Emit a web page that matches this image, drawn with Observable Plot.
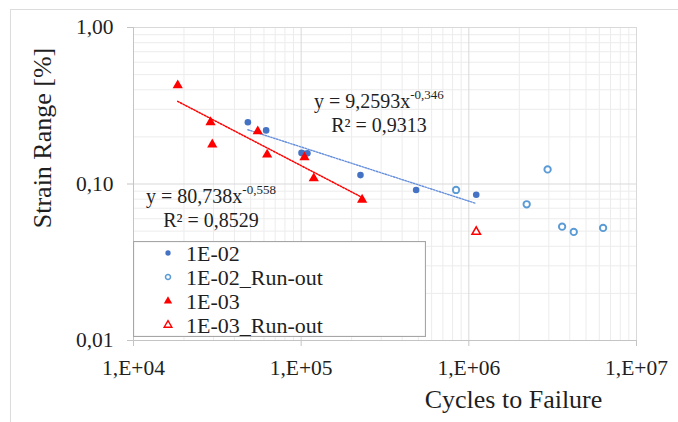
<!DOCTYPE html>
<html>
<head>
<meta charset="utf-8">
<script src="https://cdn.jsdelivr.net/npm/d3@7"></script>
<script src="https://cdn.jsdelivr.net/npm/@observablehq/plot@0.6"></script>
<style>
  html, body { margin: 0; padding: 0; background: #fff; }
  #wrap { position: relative; width: 678px; height: 422px; overflow: hidden; background: #fff; }
  #frame { position: absolute; left: 10px; top: 9px; width: 700px; height: 440px; border-left: 1.5px solid #dcdcdc; border-top: 1.5px solid #dcdcdc; }
  #chart { position: absolute; left: 0; top: 0; }
  #legend { position: absolute; left: 133px; top: 241px; }
</style>
</head>
<body>
<div id="wrap"><div id="frame"></div><div id="chart"></div><div id="legend"></div></div>
<script>
// ---- data (cycles to failure N, strain range S in %) ----
const seriesNames = ["1E-02", "1E-02_Run-out", "1E-03", "1E-03_Run-out"];

const e2Cycles = [48100, 61800, 100500, 104000, 109000, 225800, 485000, 1107000];
const e2Strain = [0.248, 0.220, 0.158, 0.156, 0.157, 0.114, 0.0916, 0.0854];

const e2RunCycles = [839000, 2213000, 2950000, 3600000, 4224000, 6320000];
const e2RunStrain = [0.0916, 0.0742, 0.124, 0.0534, 0.0494, 0.0524];

const e3Cycles = [18360, 28800, 29500, 55100, 62700, 104700, 118900, 231000];
const e3Strain = [0.427, 0.248, 0.179, 0.217, 0.154, 0.148, 0.1086, 0.0794];

const e3RunCycles = [1107000];
const e3RunStrain = [0.0495];

// power-law trendlines shown on chart: y = a * x^b
const fitCoef = [9.2593, 80.738];
const fitExp = [-0.346, -0.558];
const fitEqText = ["y = 9,2593x", "y = 80,738x"];
const fitExpText = ["-0,346", "-0,558"];
const fitR2Text = ["R² = 0,9313", "R² = 0,8529"];
const fitLabelN = [293000, 29200];   // label anchor (data coords)
const fitLabelS = [0.304, 0.0748];

// axes
const xTicks = [1e4, 1e5, 1e6, 1e7];
const xTickLabels = ["1,E+04", "1,E+05", "1,E+06", "1,E+07"];
const yTicks = [0.01, 0.1, 1];
const yTickLabels = ["0,01", "0,10", "1,00"];
const xTitle = "Cycles to Failure";
const yTitle = "Strain Range [%]";

// ---- build ----
const zip = (xs, ys) => xs.map((x, i) => ({x, y: ys[i]}));
const e2 = zip(e2Cycles, e2Strain), e2r = zip(e2RunCycles, e2RunStrain);
const e3 = zip(e3Cycles, e3Strain), e3r = zip(e3RunCycles, e3RunStrain);

function fitLine(k, xs) {
  const [lo, hi] = d3.extent(xs);
  return [lo, hi].map(x => ({x, y: fitCoef[k] * Math.pow(x, fitExp[k])}));
}
const fitBlue = fitLine(0, e2Cycles), fitRed = fitLine(1, e3Cycles);

function minorTicks(lo, hi) {
  const out = [];
  for (let d = lo; d < hi; d *= 10) for (let m = 2; m <= 9; m++) out.push(d * m);
  return out;
}
const xMinor = minorTicks(1e4, 1e7), yMinor = minorTicks(0.01, 1);

const BLUE = "#4472C4", BLUE_LIGHT = "#5B9BD5", RED = "#FF0000";
const FONT = "'Liberation Serif', 'Times New Roman', serif";
const TEXT = "#1f1f1f";

const xFmt = d => xTickLabels[xTicks.findIndex(t => Math.abs(t - d) / t < 1e-6)];
const yFmt = d => yTickLabels[yTicks.findIndex(t => Math.abs(t - d) / t < 1e-6)];

const eqMark = (index, scales) => {
  const g = d3.create("svg:g")
    .attr("font-family", FONT).attr("font-size", 20).attr("fill", TEXT)
    .attr("text-anchor", "middle");
  fitEqText.forEach((t, k) => {
    const x = scales.x(fitLabelN[k]), y = scales.y(fitLabelS[k]);
    const txt = g.append("text").attr("x", x).attr("y", y);
    txt.append("tspan").text(t);
    txt.append("tspan").attr("font-size", 13).attr("dy", -9).text(fitExpText[k]);
    g.append("text").attr("x", x).attr("y", y + 24).text(fitR2Text[k]);
  });
  return g.node();
};

const chart = Plot.plot({
  width: 678,
  height: 422,
  marginLeft: 133,
  marginRight: 42,
  marginTop: 27,
  marginBottom: 82,
  style: {fontFamily: FONT, fontSize: "21.5px", color: TEXT, background: "transparent"},
  x: {type: "log", domain: [1e4, 1e7]},
  y: {type: "log", domain: [0.01, 1]},
  marks: [
    Plot.gridX(xMinor, {stroke: "#ececec", strokeOpacity: 1}),
    Plot.gridY(yMinor, {stroke: "#ececec", strokeOpacity: 1}),
    Plot.gridX(xTicks, {stroke: "#d9d9d9", strokeOpacity: 1}),
    Plot.gridY(yTicks, {stroke: "#d9d9d9", strokeOpacity: 1}),
    Plot.ruleY([0.01], {stroke: "#c4c4c4"}),
    Plot.ruleX([1e4], {stroke: "#c4c4c4"}),
    Plot.axisX(xTicks, {tickFormat: xFmt, tickSize: 6, tickPadding: 13, stroke: "#c4c4c4", fill: TEXT, label: null}),
    Plot.axisY(yTicks, {tickFormat: yFmt, tickSize: 6, tickPadding: 14, stroke: "#c4c4c4", fill: TEXT, label: null}),
    Plot.line(fitRed, {x: "x", y: "y", stroke: RED, strokeWidth: 1.5, strokeDasharray: "1.5,1.5"}),
    Plot.line(fitBlue, {x: "x", y: "y", stroke: "#6690dc", strokeWidth: 1.4, strokeDasharray: "1.5,1.5"}),
    Plot.dot(e2, {x: "x", y: "y", r: 3.3, fill: BLUE}),
    Plot.dot(e2r, {x: "x", y: "y", r: 3.2, stroke: BLUE_LIGHT, strokeWidth: 1.9, fill: "white"}),
    Plot.dot(e3, {x: "x", y: "y", symbol: "triangle", r: 3.8, fill: RED}),
    Plot.dot(e3r, {x: "x", y: "y", symbol: "triangle", r: 3.1, stroke: RED, strokeWidth: 1.6, fill: "white"}),
    eqMark,
    Plot.text([yTitle], {frameAnchor: "left", textAnchor: "middle", lineAnchor: "middle", rotate: -90, dx: -91, dy: -46, fontSize: 26, fill: TEXT}),
    Plot.text([xTitle], {frameAnchor: "bottom", textAnchor: "middle", lineAnchor: "middle", dx: 128.5, dy: 58.7, fontSize: 26, fill: TEXT})
  ]
});
document.getElementById("chart").appendChild(chart);

// ---- legend ----
const lw = 293, lh = 96;
const leg = d3.select("#legend").append("svg").attr("width", lw).attr("height", lh)
  .style("font-family", FONT);
leg.append("rect").attr("x", 0.5).attr("y", 0.5).attr("width", lw - 1).attr("height", lh - 1)
  .attr("fill", "white").attr("stroke", "#a6a6a6").attr("stroke-width", 1.2);
const legSym = [
  {type: d3.symbolCircle, size: 22, fill: BLUE, stroke: "none", sw: 0},
  {type: d3.symbolCircle, size: 20, fill: "white", stroke: BLUE_LIGHT, sw: 1.5},
  {type: d3.symbolTriangle, size: 30, fill: RED, stroke: "none", sw: 0},
  {type: d3.symbolTriangle, size: 26, fill: "white", stroke: RED, sw: 1.4}
];
seriesNames.forEach((name, i) => {
  const cy = 12 + i * 24;
  leg.append("path").attr("d", d3.symbol(legSym[i].type, legSym[i].size)())
    .attr("transform", `translate(35,${cy})`)
    .attr("fill", legSym[i].fill).attr("stroke", legSym[i].stroke).attr("stroke-width", legSym[i].sw);
  leg.append("text").attr("x", 53).attr("y", cy + 7.5).attr("font-size", 22).attr("fill", TEXT).text(name);
});
</script>
</body>
</html>
